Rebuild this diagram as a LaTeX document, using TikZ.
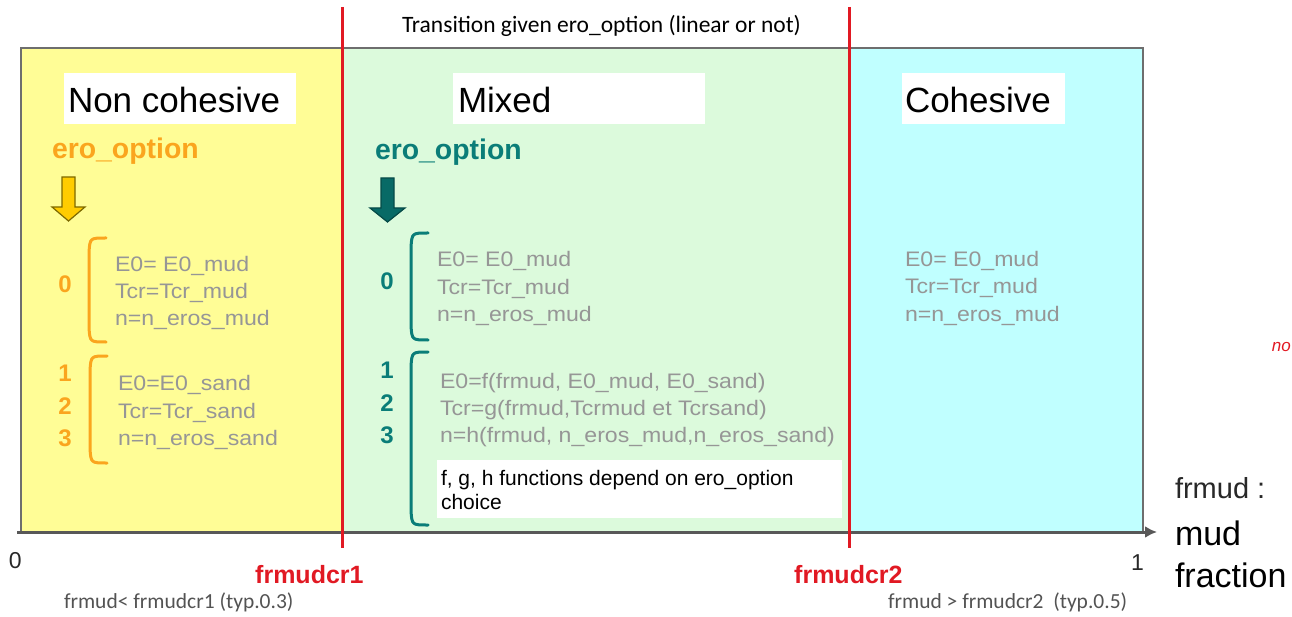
\documentclass[tikz,border=0pt]{standalone}
\usepackage{fontspec}
\usetikzlibrary{arrows.meta}
\setmainfont{Liberation Sans}
\newfontfamily\calibrifont{Carlito}
\newfontfamily\formfont{Liberation Sans}[FakeStretch=1.1]
\definecolor{yfill}{RGB}{255,253,150}
\definecolor{gfill}{RGB}{220,250,220}
\definecolor{cfill}{RGB}{192,255,255}
\definecolor{orng}{RGB}{250,165,30}
\definecolor{tealc}{RGB}{10,125,120}
\definecolor{formgray}{RGB}{150,150,150}
\definecolor{redl}{RGB}{225,25,35}
\definecolor{framegray}{RGB}{110,110,110}
\definecolor{darktxt}{RGB}{40,40,40}
\definecolor{goldfill}{RGB}{255,204,0}
\definecolor{goldline}{RGB}{125,105,0}
\begin{document}
\begin{tikzpicture}[x=1pt,y=-1pt,
  lbl/.style={inner sep=0pt,outer sep=0pt,anchor=base west},
  title/.style={lbl,font=\fontsize{35}{40}\selectfont,text=black},
  wbox/.style={fill=white,draw=none},
  form/.style={lbl,font=\formfont\fontsize{21}{25}\selectfont,text=formgray},
  num/.style={inner sep=0pt,anchor=base,font=\bfseries\fontsize{24}{28}\selectfont},
  opt/.style={lbl,font=\bfseries\fontsize{28.4}{32}\selectfont},
  brk/.style={line width=3pt,line cap=round},
  redline/.style={draw=redl,line width=3pt},
  crit/.style={inner sep=0pt,anchor=base west,text=redl,font=\bfseries\fontsize{25}{28}\selectfont},
  note/.style={lbl,font=\calibrifont\fontsize{21.5}{24}\selectfont,text=darktxt!80},
]
\useasboundingbox (0,0) rectangle (1292,617);
% region fills
\fill[yfill] (21,48) rectangle (342,532);
\fill[gfill] (342,48) rectangle (849,532);
\fill[cfill] (849,48) rectangle (1143,532);
% frame
\draw[framegray,line width=2pt] (21,532) -- (21,48) -- (1143,48) -- (1143,532);
% axis
\coordinate (ax0) at (17,532);
\coordinate (ax1) at (1157,532);
\draw[framegray!80!black,line width=3pt,-{Latex[length=12pt,width=12pt]}] (ax0) -- (ax1);
% red lines
\coordinate (r1t) at (342,7); \coordinate (r1b) at (342,548);
\coordinate (r2t) at (849,7); \coordinate (r2b) at (849,548);
\draw[redline] (r1t) -- (r1b);
\draw[redline] (r2t) -- (r2b);
% title boxes
\fill[wbox] (64,73) rectangle (296,124);
\fill[wbox] (453,73) rectangle (705,124);
\fill[wbox] (902,73) rectangle (1065,124);
\node[title] (tnc) at (68,113) {Non cohesive};
\node[title] (tmx) at (458,113) {Mixed};
\node[title] (tco) at (905,113) {Cohesive};
% transition text
\node[lbl,font=\calibrifont\fontsize{23.5}{26}\selectfont] (trans) at (402,33) {Transition given ero\_option (linear or not)};
% ero_option labels
\node[opt,text=orng] (eoy) at (52,159) {ero\_option};
\node[opt,text=tealc] (eot) at (375,160) {ero\_option};
% block arrows
\draw[line width=1.2pt,draw=goldline,fill=goldfill]
  (62,177) -- (75,177) -- (75,207) -- (85,207) -- (68.5,221) -- (52,207) -- (62,207) -- cycle;
\draw[line width=1.2pt,draw=tealc!60!black,fill=tealc!85!black]
  (381,178) -- (394,178) -- (394,208) -- (405,208) -- (387.5,222) -- (370,208) -- (381,208) -- cycle;
% brackets
\draw[brk,orng] (106,238) .. controls (90,238) .. (89,252) -- (89,328) .. controls (90,342) .. (106,342);
\draw[brk,orng] (107,356) .. controls (91,356) .. (90,370) -- (90,449) .. controls (91,463) .. (107,463);
\draw[brk,tealc] (428,233) .. controls (412,233) .. (411,247) -- (411,326) .. controls (412,340) .. (428,340);
\draw[brk,tealc] (428,352) .. controls (412,352) .. (411,366) -- (411,511) .. controls (412,525) .. (428,525);
% numbers
\node[num,text=orng] (ny0) at (65,293) {0};
\node[num,text=orng] (ny1) at (65,381) {1};
\node[num,text=orng] (ny2) at (65,414) {2};
\node[num,text=orng] (ny3) at (65,446) {3};
\node[num,text=tealc] (nt0) at (387,290) {0};
\node[num,text=tealc] (nt1) at (387,378) {1};
\node[num,text=tealc] (nt2) at (387,411) {2};
\node[num,text=tealc] (nt3) at (387,443) {3};
% formulas left
\node[form] (fl1) at (115,272) {E0= E0\_mud};
\node[form] (fl2) at (115,299) {Tcr=Tcr\_mud};
\node[form] (fl3) at (115,326) {n=n\_eros\_mud};
\node[form] (fl4) at (118,390) {E0=E0\_sand};
\node[form] (fl5) at (118,418) {Tcr=Tcr\_sand};
\node[form] (fl6) at (118,445) {n=n\_eros\_sand};
% formulas middle
\node[form] (fm1) at (437,267) {E0= E0\_mud};
\node[form] (fm2) at (437,295) {Tcr=Tcr\_mud};
\node[form] (fm3) at (437,322) {n=n\_eros\_mud};
\node[form] (fm4) at (440,388) {E0=f(frmud, E0\_mud, E0\_sand)};
\node[form] (fm5) at (440,415) {Tcr=g(frmud,Tcrmud et Tcrsand)};
\node[form] (fm6) at (440,442) {n=h(frmud, n\_eros\_mud,n\_eros\_sand)};
% formulas right
\node[form] (fr1) at (905,267) {E0= E0\_mud};
\node[form] (fr2) at (905,294) {Tcr=Tcr\_mud};
\node[form] (fr3) at (905,321) {n=n\_eros\_mud};
% note box
\fill[wbox] (437,460) rectangle (842,518);
\node[lbl,font=\fontsize{21}{24}\selectfont] (nb1) at (441,485) {f, g, h functions depend on ero\_option};
\node[lbl,font=\fontsize{21}{24}\selectfont] (nb2) at (441,509) {choice};
% axis labels
\node[lbl,font=\fontsize{23}{26}\selectfont,text=darktxt] (z0) at (9,568) {0};
\node[lbl,font=\fontsize{23}{26}\selectfont,text=darktxt] (z1) at (1131,570) {1};
\node[crit] (c1) at (255,583) {frmudcr1};
\node[crit] (c2) at (794,583) {frmudcr2};
\node[note] (b1) at (64,608) {frmud< frmudcr1 (typ.0.3)};
\node[note] (b2) at (888,608) {frmud > frmudcr2\ \ (typ.0.5)};
\node[lbl,font=\fontsize{29}{32}\selectfont,text=darktxt] (fm) at (1175,498) {frmud :};
\node[lbl,font=\fontsize{34}{40}\selectfont] (mud) at (1175,545) {mud};
\node[lbl,font=\fontsize{34}{40}\selectfont] (frac) at (1175,587) {fraction};
\node[inner sep=0pt,anchor=base east,font=\itshape\fontsize{17}{20}\selectfont,text=redl] (no) at (1291,351) {no};
\end{tikzpicture}
\end{document}
